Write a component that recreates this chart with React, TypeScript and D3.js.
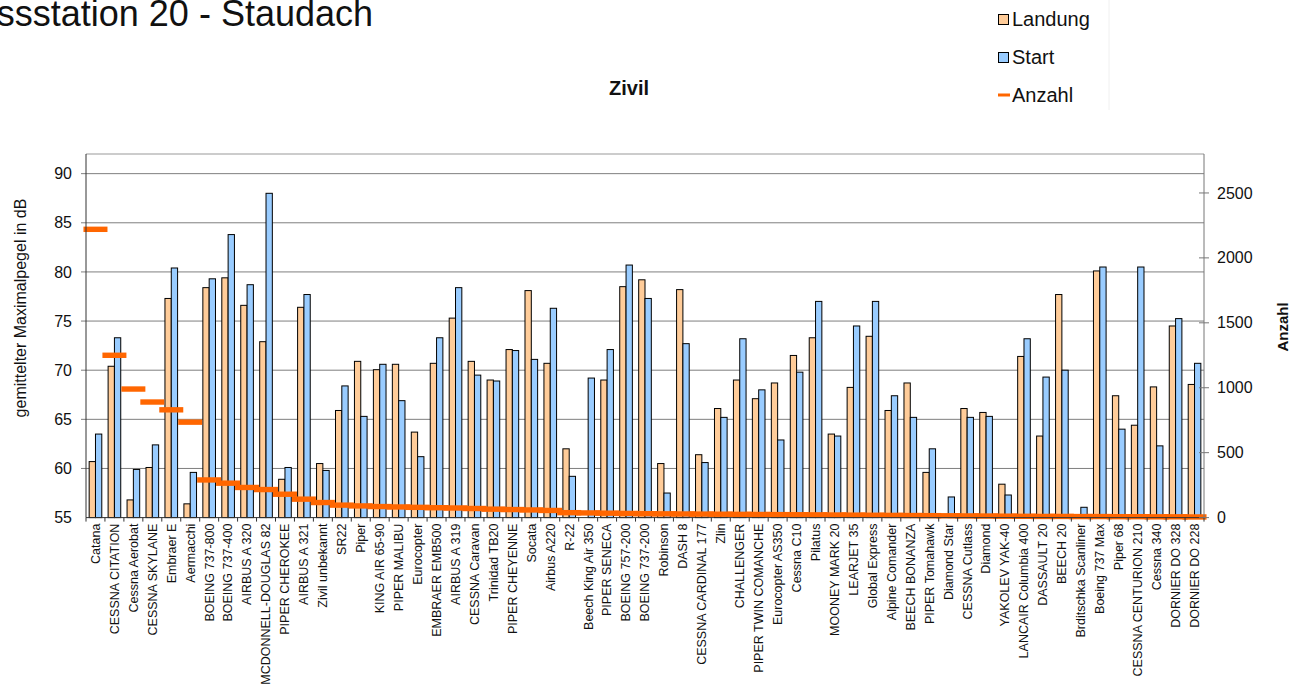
import React, { useEffect, useRef } from 'react'
import * as d3 from 'd3'

// aircraft types, x axis
const categories = [
  'Catana', 'CESSNA CITATION', 'Cessna Aerobat', 'CESSNA SKYLANE', 'Embraer E', 'Aermacchi',
  'BOEING 737-800', 'BOEING 737-400', 'AIRBUS A 320', 'MCDONNELL-DOUGLAS 82', 'PIPER CHEROKEE',
  'AIRBUS A 321', 'Zivil unbekannt', 'SR22', 'Piper', 'KING AIR 65-90', 'PIPER MALIBU', 'Eurocopter',
  'EMBRAER EMB500', 'AIRBUS A 319', 'CESSNA Caravan', 'Trinidad TB20', 'PIPER CHEYENNE', 'Socata',
  'Airbus A220', 'R-22', 'Beech King Air 350', 'PIPER SENECA', 'BOEING 757-200', 'BOEING 737-200',
  'Robinson', 'DASH 8', 'CESSNA CARDINAL 177', 'Zlin', 'CHALLENGER', 'PIPER TWIN COMANCHE',
  'Eurocopter AS350', 'Cessna C10', 'Pilatus', 'MOONEY MARK 20', 'LEARJET 35', 'Global Express',
  'Alpine Comander', 'BEECH BONANZA', 'PIPER Tomahawk', 'Diamond Star', 'CESSNA Cutlass', 'Diamond',
  'YAKOLEV YAK-40', 'LANCAIR Columbia 400', 'DASSAULT 20', 'BEECH 20', 'Brditschka Scanliner',
  'Boeing 737 Max', 'Piper 68', 'CESSNA CENTURION 210', 'Cessna 340', 'DORNIER DO 328', 'DORNIER DO 228'
]

const landung: (number | null)[] = [
  60.7, 70.4, 56.8, 60.1, 77.3, 56.4, 78.4, 79.4, 76.6, 72.9, 58.9, 76.4, 60.5, 65.9, 70.9, 70.05,
  70.6, 63.7, 70.7, 75.3, 70.9, 69.0, 72.1, 78.1, 70.7, 62.0, null, 69.0, 78.5, 79.2, 60.5, 78.2,
  61.4, 66.1, 69.0, 67.1, 68.7, 71.5, 73.3, 63.5, 68.25, 73.45, 65.9, 68.7, 59.6, null, 66.1, 65.7,
  58.4, 71.4, 63.3, 77.7, null, 80.1, 67.4, 64.4, 68.3, 74.5, 68.55
]

const start: (number | null)[] = [
  63.5, 73.3, 59.9, 62.4, 80.4, 59.6, 79.3, 83.8, 78.7, 88.0, 60.1, 77.7, 59.8, 68.4, 65.3, 70.6,
  66.9, 61.2, 73.3, 78.4, 69.5, 68.9, 72.0, 71.1, 76.3, 59.2, 69.2, 72.1, 80.7, 77.3, 57.5, 72.7,
  60.6, 65.2, 73.2, 68.0, 62.9, 69.8, 77.0, 63.3, 74.5, 77.0, 67.4, 65.2, 62.0, 57.1, 65.2, 65.3,
  57.3, 73.2, 69.3, 70.0, 56.05, 80.5, 64.0, 80.5, 62.3, 75.25, 70.7
]

const anzahl = [
  2220, 1250, 990, 890, 830, 735, 290, 265, 232, 216, 180, 142, 116, 96, 90, 85,
  82, 79, 76, 74, 70, 65, 62, 59, 55, 38, 36, 34, 32, 30, 29, 28,
  27, 26, 25, 24, 23, 22, 21, 20, 19, 18, 17, 16, 15, 14, 13, 12,
  11, 10, 9, 9, 8, 8, 7, 7, 6, 6, 5
]

const dbTicks = [55, 60, 65, 70, 75, 80, 85, 90]
const countTicks = [0, 500, 1000, 1500, 2000, 2500]

const series = [
  { key: 'Landung', values: landung, color: '#FFCC99' },
  { key: 'Start', values: start, color: '#99CCFF' }
]

const FONT = 'Arial, "Liberation Sans", sans-serif'

export default function App() {
  const ref = useRef<SVGSVGElement>(null)

  useEffect(() => {
    const svg = d3.select(ref.current)
    svg.selectAll('*').remove()

    const left = 86, right = 1204, top = 154, bottom = 517.6

    const x = d3.scaleBand().domain(categories).range([left, right])
      .paddingInner(1 / 3).paddingOuter(1 / 6)
    const xs = d3.scaleBand().domain(series.map((s) => s.key)).range([0, x.bandwidth()])
    const y = d3.scaleLinear().domain([55, 92]).range([bottom, top])
    const y2 = d3.scaleLinear().domain([0, 2800]).range([bottom, top])
    const step = x.step()

    // gridlines
    svg.append('g').selectAll('line').data(dbTicks.slice(1)).enter().append('line')
      .attr('x1', left - 5).attr('x2', right)
      .attr('y1', (d) => y(d)).attr('y2', (d) => y(d))
      .attr('stroke', '#7f7f7f').attr('stroke-width', 1)

    // plot border top
    svg.append('line').attr('x1', left).attr('x2', right).attr('y1', top).attr('y2', top)
      .attr('stroke', '#999')

    // bars
    series.forEach((s) => {
      svg.append('g').selectAll('rect')
        .data(categories.map((c, i) => ({ c, v: s.values[i] })).filter((d) => d.v != null))
        .enter().append('rect')
        .attr('x', (d) => (x(d.c) as number) + (xs(s.key) as number))
        .attr('y', (d) => y(d.v as number))
        .attr('width', xs.bandwidth())
        .attr('height', (d) => bottom - y(d.v as number))
        .attr('fill', s.color)
        .attr('stroke', '#000').attr('stroke-width', 1)
    })

    // Anzahl as dash markers
    svg.append('g').selectAll('rect')
      .data(categories.map((c, i) => ({ c, v: anzahl[i] })))
      .enter().append('rect')
      .attr('x', (d) => (x(d.c) as number) + x.bandwidth() / 2 - 12)
      .attr('y', (d) => y2(d.v) - 2.7)
      .attr('width', 24).attr('height', 5.4)
      .attr('fill', '#FF6600')

    // axes lines
    svg.append('line').attr('x1', left).attr('x2', left).attr('y1', top).attr('y2', bottom)
      .attr('stroke', '#333')
    svg.append('line').attr('x1', right).attr('x2', right).attr('y1', top).attr('y2', bottom)
      .attr('stroke', '#777')
    svg.append('line').attr('x1', left).attr('x2', right).attr('y1', bottom).attr('y2', bottom)
      .attr('stroke', '#333')

    // x ticks at category boundaries
    svg.append('g').selectAll('line').data(d3.range(categories.length + 1)).enter().append('line')
      .attr('x1', (i) => left + i * step).attr('x2', (i) => left + i * step)
      .attr('y1', bottom).attr('y2', bottom + 4)
      .attr('stroke', '#333')

    // left tick labels
    svg.append('g').selectAll('text').data(dbTicks).enter().append('text')
      .attr('x', 72).attr('y', (d) => y(d)).attr('dy', '0.35em')
      .attr('text-anchor', 'end')
      .attr('font-family', FONT).attr('font-size', 16).attr('fill', '#111')
      .text((d) => d)

    // right ticks + labels
    svg.append('g').selectAll('line').data(countTicks).enter().append('line')
      .attr('x1', right - 5).attr('x2', right + 5)
      .attr('y1', (d) => y2(d)).attr('y2', (d) => y2(d))
      .attr('stroke', '#777')
    svg.append('g').selectAll('text').data(countTicks).enter().append('text')
      .attr('x', 1217).attr('y', (d) => y2(d)).attr('dy', '0.35em')
      .attr('font-family', FONT).attr('font-size', 16).attr('fill', '#111')
      .text((d) => d)

    // category labels
    svg.append('g').selectAll('text').data(categories).enter().append('text')
      .attr('transform', (d) => `translate(${(x(d) as number) + x.bandwidth() / 2}, ${bottom + 6}) rotate(-90)`)
      .attr('dy', '0.35em')
      .attr('text-anchor', 'end')
      .attr('font-family', FONT).attr('font-size', 12.5).attr('fill', '#111')
      .text((d) => d)

    // axis titles
    svg.append('text')
      .attr('transform', `translate(20, 308) rotate(-90)`)
      .attr('dy', '0.35em').attr('text-anchor', 'middle')
      .attr('font-family', FONT).attr('font-size', 16).attr('fill', '#111')
      .text('gemittelter Maximalpegel in dB')
    svg.append('text')
      .attr('transform', `translate(1283, 327) rotate(-90)`)
      .attr('dy', '0.35em').attr('text-anchor', 'middle')
      .attr('font-family', FONT).attr('font-size', 15).attr('font-weight', 'bold').attr('fill', '#111')
      .text('Anzahl')
  }, [])

  return (
    <div style={{ position: 'absolute', left: 0, top: 0 }}>
      <svg ref={ref} width={1291} height={684} style={{ display: 'block', background: '#fff' }} />
      <svg width={1291} height={684} style={{ position: 'absolute', left: 0, top: 0 }}>
        <text x={373} y={26} textAnchor="end" fontFamily={FONT} fontSize={36} fill="#111">
          Messstation 20 - Staudach
        </text>
        <text x={629} y={95} textAnchor="middle" fontFamily={FONT} fontSize={20} fontWeight="bold" fill="#111">
          Zivil
        </text>
        <line x1={1109} x2={1109} y1={0} y2={110} stroke="#f0f0f0" />
        {series.map((s, i) => (
          <g key={s.key}>
            <rect x={998.5} y={14.5 + i * 38} width={10} height={10} fill={s.color} stroke="#000" />
            <text x={1012} y={26 + i * 38} fontFamily={FONT} fontSize={20} fill="#111">{s.key}</text>
          </g>
        ))}
        <line x1={998} x2={1010} y1={95} y2={95} stroke="#FF6600" strokeWidth={3} />
        <text x={1012} y={102} fontFamily={FONT} fontSize={20} fill="#111">Anzahl</text>
      </svg>
    </div>
  )
}
